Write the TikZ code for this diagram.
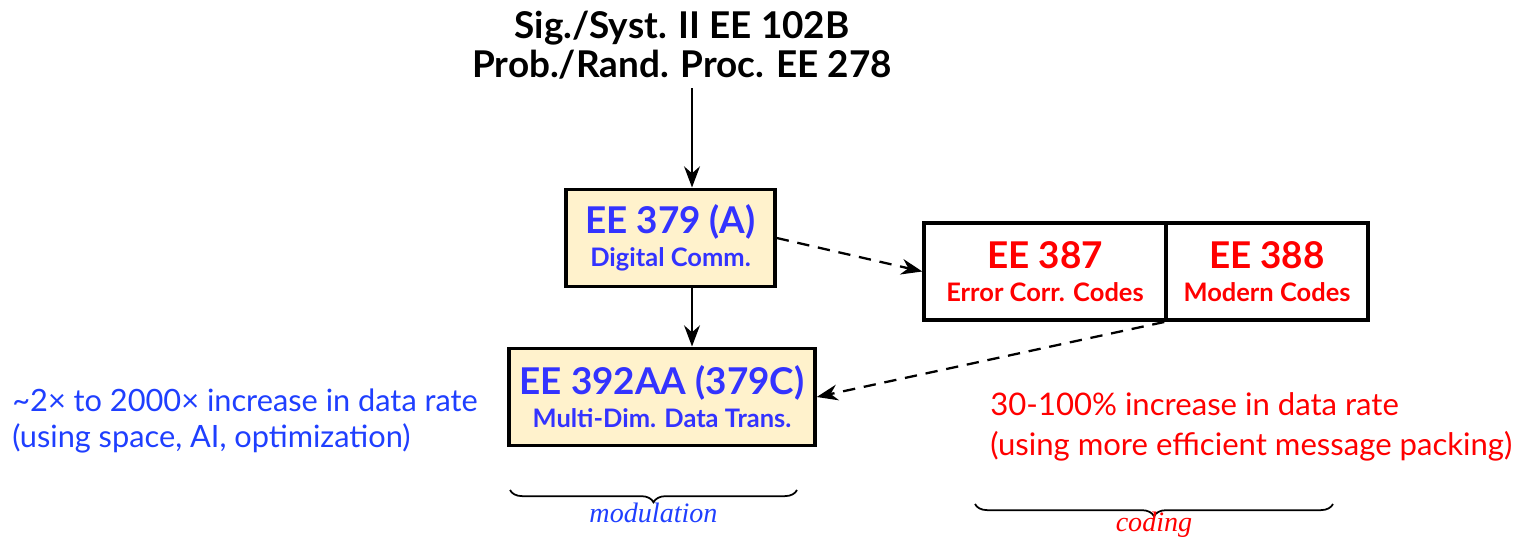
\documentclass[tikz,border=0pt]{standalone}
\usepackage{fontspec}
\setmainfont{Lato}
\newfontfamily\bracelabel{Liberation Serif}
\usetikzlibrary{arrows.meta, positioning, calc, decorations.pathreplacing}
\definecolor{boxfill}{HTML}{FFF2CC}
\definecolor{modblue}{HTML}{3333FF}
\definecolor{noteblue}{HTML}{1F3FFF}
\definecolor{codred}{HTML}{FF0000}

\tikzset{
  course/.style={draw=black, line width=2pt, align=center, inner sep=0pt, minimum height=1.95cm,
    font=\bfseries\fontsize{14.5}{18.7}\selectfont},
  modbox/.style={course, fill=boxfill, text=modblue},
  codbox/.style={course, fill=white, text=codred},
  note/.style={anchor=west, align=left, inner sep=0pt},
  span/.style={decorate, line width=1pt, decoration={brace, mirror, amplitude=7pt}},
  spanlabel/.style={below=6pt, inner sep=1pt, font=\bracelabel\itshape\fontsize{16}{16}\selectfont},
}
\newcommand{\cnum}[1]{{\fontsize{21}{21}\selectfont #1}}

\begin{document}
\begin{tikzpicture}[x=0.02cm, y=-0.02cm, > = {Stealth[length=12pt, width=9pt]}]
    \useasboundingbox (0,0) rectangle (1514,547);
    \coordinate (spine) at (692,0);

    % prerequisites on top
    \node[align=center, font=\bfseries\fontsize{21}{22.5}\selectfont, inner sep=5pt] (pre) at (682,45)
      {Sig./Syst. II EE 102B\\Prob./Rand. Proc. EE 278};

    % course boxes
    \node[modbox, minimum width=4.18cm] (ee379) at (670.5,238) {\cnum{EE 379 (A)}\\Digital Comm.};
    \node[modbox, minimum width=6.12cm] (ee392) at (662,397) {\cnum{EE 392AA (379C)}\\Multi-Dim. Data Trans.};
    \node[codbox, minimum width=4.84cm] (ee387) at (1045,271.5) {\cnum{EE 387}\\Error Corr. Codes};
    \node[codbox, minimum width=4.04cm] (ee388) at (1267,271.5) {\cnum{EE 388}\\Modern Codes};

    % arrows
    \draw[->, line width=1.3pt] (pre.south -| spine) -- (ee379.north -| spine);
    \draw[->, line width=1.3pt] (ee379.south -| spine) -- (ee392.north -| spine);
    \draw[->, line width=1.3pt, dash pattern=on 7pt off 5pt] (ee379.east) -- (ee387.west);
    \draw[->, line width=1.3pt, dash pattern=on 7pt off 5pt] (ee388.south west) -- (ee392.east);

    % gains
    \node[note, text=noteblue, font=\fontsize{17.5}{21}\selectfont] (modgain) at (12,421)
      {\textasciitilde 2× to 2000× increase in data rate\\(using space, AI, optimization)};
    \node[note, text=codred, font=\fontsize{17.7}{23}\selectfont] (codgain) at (990,427)
      {30-100\% increase in data rate\\(using more efficient message packing)};

    % braces
    \draw[span] (510,490) -- node[spanlabel, text=noteblue] (modlabel) {modulation} (797,490);
    \draw[span] (975,504) -- node[spanlabel, below=3pt, text=codred] (codlabel) {coding} (1333,504);
\end{tikzpicture}
\end{document}
